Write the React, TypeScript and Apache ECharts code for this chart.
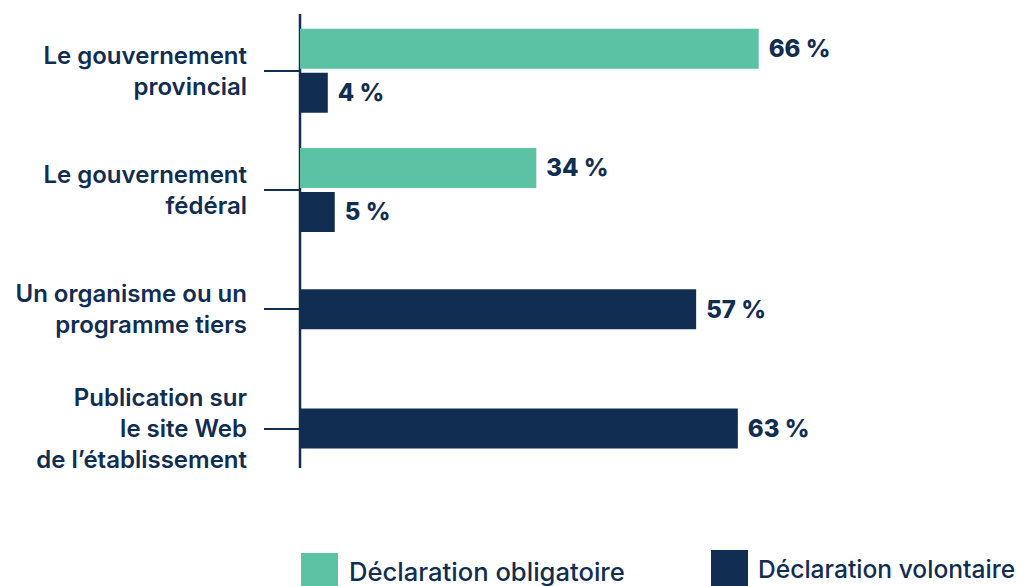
import React, { useEffect, useRef } from "react";
import * as echarts from "echarts";

const categories = [
  "Le gouvernement\nprovincial",
  "Le gouvernement\nfédéral",
  "Un organisme ou un\nprogramme tiers",
  "Publication sur\nle site Web\nde l’établissement",
];
const obligatoire = [66, 34, null, null];
const volontaireGrouped = [4, 5, null, null];
const volontaireSolo = [null, null, 57, 63];
const seriesNames = ["Déclaration obligatoire", "Déclaration volontaire"];

const GREEN = "#5BC2A4";
const NAVY = "#112D52";
const FONT = "Inter, 'Noto Sans', sans-serif";

export default function App() {
  const ref = useRef<HTMLDivElement>(null);
  useEffect(() => {
    if (!ref.current) return;
    const chart = echarts.init(ref.current, null, { renderer: "svg" });
    const valueLabel = {
      show: true,
      position: "right",
      distance: 10,
      color: NAVY,
      fontFamily: FONT,
      fontWeight: 800,
      fontSize: 24,
      formatter: (p: any) => (p.value == null ? "" : `${p.value} %`),
    };
    const legendText = {
      color: NAVY,
      fontFamily: FONT,
      fontWeight: 500,
    };
    const legendBase = {
      itemWidth: 37,
      itemHeight: 37,
      icon: "rect",
      padding: 0,
      width: 400,
    };
    chart.setOption({
      animation: false,
      grid: { left: 300, right: 30, top: 11, height: 477, containLabel: false },
      xAxis: { type: "value", min: 0, max: 100, show: false },
      yAxis: [
        {
          type: "category",
          data: categories,
          inverse: true,
          axisLine: { show: false },
          axisTick: {
            show: true,
            alignWithLabel: true,
            length: 36,
            lineStyle: { color: NAVY, width: 2 },
          },
          axisLabel: {
            margin: 53,
            color: NAVY,
            fontFamily: FONT,
            fontWeight: 600,
            fontSize: 24,
            lineHeight: 31,
            align: "right",
          },
        },
        {
          type: "category",
          data: categories,
          inverse: true,
          show: false,
        },
      ],
      legend: [
        {
          ...legendBase,
          left: 301,
          top: 553,
          data: [seriesNames[0]],
          textStyle: { ...legendText, fontSize: 25.6, padding: [14, 0, 0, 6] },
        },
        {
          ...legendBase,
          left: 711,
          top: 550,
          data: [seriesNames[1]],
          textStyle: { ...legendText, fontSize: 24.6, padding: [20, 0, 0, 5] },
        },
      ],
      graphic: [
        {
          type: "line",
          shape: { x1: 300, y1: 14, x2: 300, y2: 468 },
          style: { stroke: NAVY, lineWidth: 2.5 },
        },
      ],
      series: [
        {
          name: seriesNames[0],
          type: "bar",
          yAxisIndex: 0,
          data: obligatoire,
          barWidth: 40,
          barGap: "10%",
          itemStyle: { color: GREEN },
          label: valueLabel,
        },
        {
          name: seriesNames[1],
          type: "bar",
          yAxisIndex: 0,
          data: volontaireGrouped,
          barWidth: 40,
          barGap: "10%",
          itemStyle: { color: NAVY },
          label: valueLabel,
        },
        {
          name: seriesNames[1],
          type: "bar",
          yAxisIndex: 1,
          data: volontaireSolo,
          barWidth: 40,
          itemStyle: { color: NAVY },
          label: valueLabel,
        },
      ],
    });
    return () => chart.dispose();
  }, []);
  return (
    <div
      ref={ref}
      style={{ position: "absolute", left: 0, top: 0, width: 1025, height: 586 }}
    />
  );
}
